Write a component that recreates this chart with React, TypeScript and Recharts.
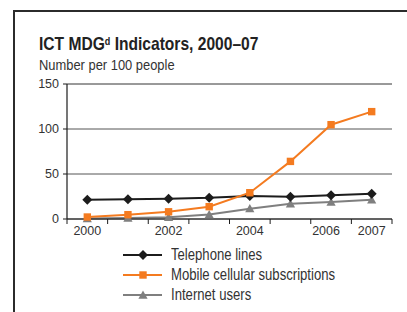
import { LineChart, Line, XAxis, YAxis, CartesianGrid, ReferenceLine } from "recharts";

const years = [2000, 2001, 2002, 2003, 2004, 2005, 2006, 2007];
const telephone = [21.4, 22, 22.5, 23.5, 25.5, 24.6, 26.5, 28];
const mobile = [2.2, 4.8, 8, 13.7, 29.2, 64, 104.8, 119.3];
const internet = [0.5, 1, 2, 5, 11.5, 17, 18.8, 21.3];
const yTicks = [0, 50, 100, 150];
const xLabels = [2000, 2002, 2004, 2006, 2007];
const tickNudge: Record<number, number> = { 2006: -5 };

const SANS = "'Liberation Sans', Arial, sans-serif";
const TEXT = "#333";

const BLACK = "#1c1c1c";
const ORANGE = "#f47b20";
const GRAY = "#7f7f7f";

const data = years.map((year, i) => ({
  year,
  telephone: telephone[i],
  mobile: mobile[i],
  internet: internet[i],
}));

// band edges for the little tick marks between years
const edges = [...years.map((y) => y - 0.5), years[years.length - 1] + 0.5];
const allTicks = [...edges, ...xLabels].sort((a, b) => a - b);

const Diamond = ({ cx, cy, color, r = 5 }: any) => (
  <polygon
    points={`${cx},${cy - r} ${cx + r},${cy} ${cx},${cy + r} ${cx - r},${cy}`}
    fill={color}
  />
);
const Square = ({ cx, cy, color, r = 3.7 }: any) => (
  <rect x={cx - r} y={cy - r} width={r * 2} height={r * 2} fill={color} />
);
const Triangle = ({ cx, cy, color, r = 4.6 }: any) => (
  <polygon
    points={`${cx},${cy - r} ${cx + r},${cy + r * 0.8} ${cx - r},${cy + r * 0.8}`}
    fill={color}
  />
);

const YearTick = (props: any) => {
  const { x, y, payload } = props;
  const v = payload.value as number;
  if (!Number.isInteger(v)) {
    // edge mark: draw a short line down from the axis
    return <line x1={x} x2={x} y1={y - 7} y2={y - 2} stroke={BLACK} strokeWidth={1} />;
  }
  return (
    <text
      x={x + (tickNudge[v] || 0)}
      y={y}
      dy="0.71em"
      textAnchor="middle"
      fill={TEXT}
      fontSize={12.5}
      fontFamily={SANS}
    >
      {v}
    </text>
  );
};

const legendItems = [
  { name: "Telephone lines", color: BLACK, Shape: Diamond },
  { name: "Mobile cellular subscriptions", color: ORANGE, Shape: Square },
  { name: "Internet users", color: GRAY, Shape: Triangle },
];

// squeeze text horizontally to get a condensed look
const narrow = (sx: number): React.CSSProperties => ({
  display: "inline-block",
  transform: `scaleX(${sx})`,
  transformOrigin: "left center",
  whiteSpace: "nowrap",
});

export default function App() {
  return (
    <div
      style={{
        position: "absolute",
        left: 0,
        top: 0,
        width: 407,
        height: 312,
        overflow: "hidden",
        background: "#fff",
      }}
    >
      {/* frame */}
      <div
        style={{
          position: "absolute",
          left: 13,
          top: 10,
          width: 500,
          height: 400,
          borderLeft: "2px solid #2b2b2b",
          borderTop: "2px solid #2b2b2b",
        }}
      />

      <div
        style={{
          position: "absolute",
          left: 39,
          top: 34,
          fontFamily: SANS,
          fontWeight: 700,
          fontSize: 19,
          lineHeight: "19px",
          color: "#222",
        }}
      >
        <span style={narrow(0.82)}>
          ICT MDG
          <sup style={{ fontSize: 11, verticalAlign: "top", position: "relative", top: -2 }}>d</sup>{" "}
          Indicators, 2000–07
        </span>
      </div>
      <div
        style={{
          position: "absolute",
          left: 39,
          top: 57.5,
          fontFamily: SANS,
          fontSize: 14.5,
          lineHeight: "14.5px",
          color: TEXT,
        }}
      >
        <span style={narrow(0.89)}>Number per 100 people</span>
      </div>

      <div style={{ position: "absolute", left: 0, top: 0 }}>
        <LineChart
          width={407}
          height={312}
          data={data}
          margin={{ top: 84, right: 15, bottom: 73, left: 0 }}
        >
          <CartesianGrid vertical={false} stroke="#555" strokeWidth={1} />
          <ReferenceLine y={150} stroke="#8a8a8a" strokeWidth={1.2} />
          <XAxis
            dataKey="year"
            type="number"
            domain={[edges[0], edges[edges.length - 1]]}
            ticks={allTicks}
            interval={0}
            tickLine={false}
            tickSize={5}
            tickMargin={2}
            axisLine={{ stroke: BLACK, strokeWidth: 1.2 }}
            tick={<YearTick />}
            height={20}
          />
          <YAxis
            domain={[0, 150]}
            ticks={yTicks}
            interval={0}
            width={67}
            tickSize={4}
            tickMargin={4}
            axisLine={{ stroke: BLACK, strokeWidth: 1.2 }}
            tickLine={{ stroke: BLACK }}
            tick={{ fill: TEXT, fontSize: 12.5, fontFamily: SANS }}
          />
          <YAxis
            yAxisId="right"
            orientation="right"
            domain={[0, 150]}
            width={0}
            tick={false}
            tickLine={false}
            axisLine={{ stroke: BLACK, strokeWidth: 1.2 }}
          />
          <Line
            dataKey="internet"
            type="linear"
            stroke={GRAY}
            strokeWidth={2}
            isAnimationActive={false}
            dot={(p: any) => <Triangle key={p.index} cx={p.cx} cy={p.cy} color={GRAY} />}
          />
          <Line
            dataKey="telephone"
            type="linear"
            stroke={BLACK}
            strokeWidth={2}
            isAnimationActive={false}
            dot={(p: any) => <Diamond key={p.index} cx={p.cx} cy={p.cy} color={BLACK} />}
          />
          <Line
            dataKey="mobile"
            type="linear"
            stroke={ORANGE}
            strokeWidth={2}
            isAnimationActive={false}
            dot={(p: any) => <Square key={p.index} cx={p.cx} cy={p.cy} color={ORANGE} />}
          />
        </LineChart>
      </div>

      {/* legend */}
      {legendItems.map((item, i) => (
        <div
          key={item.name}
          style={{
            position: "absolute",
            left: 122,
            top: 245 + i * 20.2,
            height: 20,
            display: "flex",
            alignItems: "center",
            fontFamily: SANS,
            fontSize: 16,
            lineHeight: "20px",
            color: TEXT,
            whiteSpace: "nowrap",
          }}
        >
          <svg width={41} height={14} style={{ marginRight: 8 }}>
            <line x1={1} x2={40} y1={7} y2={7} stroke={item.color} strokeWidth={2} />
            <item.Shape cx={21} cy={7} color={item.color} />
          </svg>
          <span style={narrow(0.82)}>{item.name}</span>
        </div>
      ))}
    </div>
  );
}
